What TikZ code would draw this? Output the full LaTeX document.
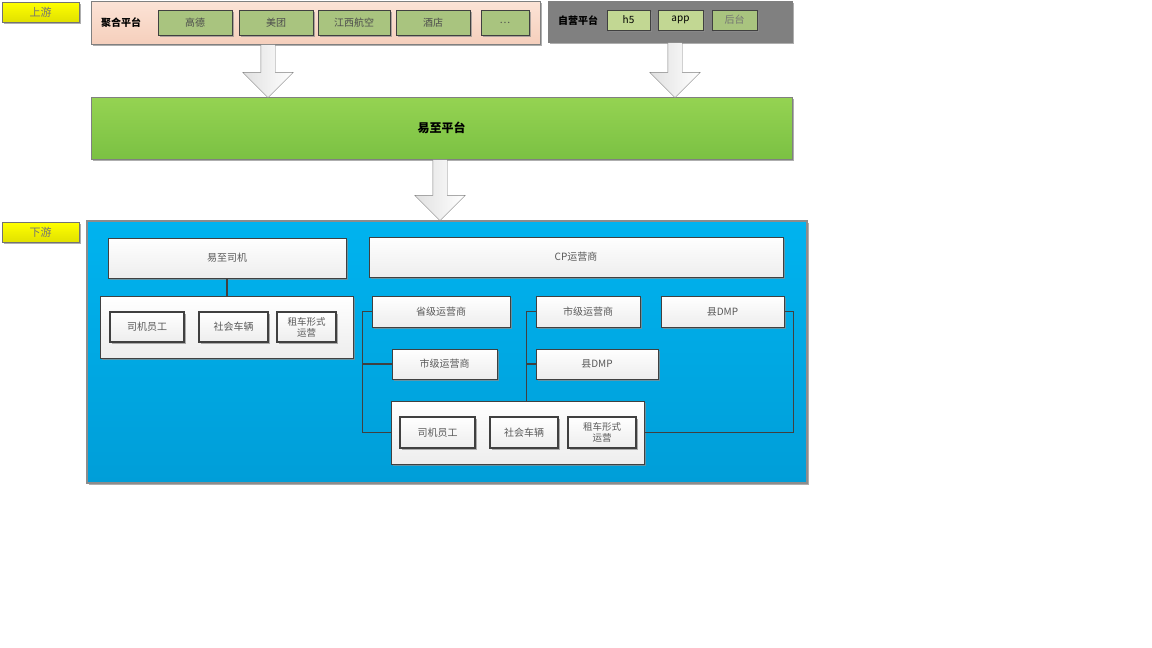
\documentclass[tikz,border=0pt]{standalone}
\usepackage{fontspec}
\setmainfont{Noto Sans CJK SC}
\usetikzlibrary{shapes.arrows,shadows,calc}

\definecolor{peachtop}{HTML}{FCE3D6}
\definecolor{peachbot}{HTML}{F5CFBC}
\definecolor{olivebox}{HTML}{A9C47F}
\definecolor{limebox}{HTML}{C2D793}
\definecolor{greentop}{HTML}{95D352}
\definecolor{greenbot}{HTML}{7BC143}
\definecolor{bluetop}{HTML}{00B3EF}
\definecolor{bluebot}{HTML}{009ED8}
\definecolor{framegray}{HTML}{404040}

\begin{document}
\begin{tikzpicture}[x=1pt,y=-1pt,
    font=\fontsize{10}{12}\selectfont,
    boxshadow/.style={drop shadow={shadow xshift=1.5pt,shadow yshift=-1.5pt,fill=black!45,opacity=.7}},
    tagbox/.style={draw=black!55,line width=0.8pt,top color=yellow,bottom color=yellow!88!black,
      minimum width=77,minimum height=20,text=black!55,font=\fontsize{11}{13}\selectfont,boxshadow},
    panel/.style={draw=black!50,line width=0.8pt,boxshadow},
    tilebox/.style={draw=framegray,line width=1pt,fill=olivebox,minimum height=25,text=black!70,boxshadow},
    whitebox/.style={draw=framegray,line width=0.8pt,top color=white,bottom color=black!7,
      text=black!65,align=center,boxshadow},
    bigarrow/.style={single arrow,draw=black!50,top color=black!12,bottom color=white,shading angle=90,
      rotate=-90,inner xsep=0pt,inner ysep=7pt,single arrow head extend=18pt,anchor=tail},
    link/.style={draw=framegray,line width=1.5pt}]
  \useasboundingbox[fill=white] (0,0) rectangle (1152,648);

  % upstream
  \node[tagbox] (up) at (40.5,12) {上游};
  \node[panel,top color=peachtop,bottom color=peachbot,minimum width=449,minimum height=43] (juhe) at (315.5,22.5) {};
  \node[font=\bfseries\fontsize{10}{12}\selectfont] (juhetitle) at (121,22.5) {聚合平台};
  \node[tilebox,minimum width=74] (gaode) at (195,22.5) {高德};
  \node[tilebox,minimum width=74] (meituan) at (276,22.5) {美团};
  \node[tilebox,minimum width=72] (jiangxi) at (354,22.5) {江西航空};
  \node[tilebox,minimum width=74] (hotel) at (433,22.5) {酒店};
  \node[tilebox,minimum width=48] (more) at (505,22.5) {…};

  \node[panel,fill=black!50,minimum width=244,minimum height=41] (ziying) at (670,21.5) {};
  \node[font=\bfseries\fontsize{10}{12}\selectfont] (ziyingtitle) at (578,21) {自营平台};
  \node[tilebox,fill=limebox,minimum width=43,minimum height=20,text=black] (hfive) at (628.5,20) {h5};
  \node[tilebox,fill=limebox,minimum width=45,minimum height=20,text=black] (app) at (680.5,20) {app};
  \node[tilebox,minimum width=45,minimum height=20,text=black!55] (admin) at (734.5,20) {后台};

  % platform
  \node[panel,top color=greentop,bottom color=greenbot,minimum width=701,minimum height=62,
    font=\bfseries\fontsize{12}{14}\selectfont] (yizhi) at (441.5,128) {易至平台};

  \node[bigarrow,minimum height=53] (arrjuhe) at (juhe.south -| 268,0) {};
  \node[bigarrow,minimum height=55] (arrziying) at (ziying.south -| 675,0) {};
  \node[bigarrow,minimum height=61] (arryizhi) at (yizhi.south -| 440,0) {};

  % downstream
  \node[tagbox] (down) at (40.5,232.5) {下游};
  \node[panel,draw=black!45,line width=1.5pt,top color=bluetop,bottom color=bluebot,
    minimum width=720,minimum height=262] (blue) at (447,352) {};

  \node[whitebox,minimum width=238,minimum height=40] (siji) at (227,258) {易至司机};
  \node[whitebox,minimum width=253,minimum height=62] (groupA) at (226.5,327) {};
  \node[whitebox,line width=1.2pt,minimum width=74,minimum height=30] (staffA) at (147,327) {司机员工};
  \node[whitebox,line width=1.2pt,minimum width=69,minimum height=30] (socialA) at (233.5,327) {社会车辆};
  \node[whitebox,line width=1.2pt,minimum width=59,minimum height=30,inner sep=1pt,
    font=\fontsize{9.5}{11}\selectfont] (rentA) at (306.5,327) {租车形式\\运营};

  \node[whitebox,minimum width=414,minimum height=40] (cp) at (576,257) {CP运营商};
  \node[whitebox,minimum width=138,minimum height=31] (sheng) at (441,311.5) {省级运营商};
  \node[whitebox,minimum width=104,minimum height=31] (shitop) at (588,311.5) {市级运营商};
  \node[whitebox,minimum width=123,minimum height=31] (xiantop) at (722.5,311.5) {县DMP};
  \node[whitebox,minimum width=105,minimum height=30] (shilow) at (444.5,364) {市级运营商};
  \node[whitebox,minimum width=122,minimum height=30] (xianlow) at (597,364) {县DMP};

  \node[whitebox,minimum width=253,minimum height=63] (groupB) at (517.5,432.5) {};
  \node[whitebox,line width=1.2pt,minimum width=75,minimum height=31] (staffB) at (437.5,432.5) {司机员工};
  \node[whitebox,line width=1.2pt,minimum width=68,minimum height=31] (socialB) at (524,432.5) {社会车辆};
  \node[whitebox,line width=1.2pt,minimum width=68,minimum height=31,inner sep=1pt,
    font=\fontsize{9.5}{11}\selectfont] (rentB) at (602,432.5) {租车形式\\运营};

  % links
  \draw[link] (siji.south) -- (siji.south |- groupA.north);
  \coordinate (trunkL) at ($(sheng.west)+(-9,0)$);
  \coordinate (trunkM) at ($(shitop.west)+(-9,0)$);
  \coordinate (trunkR) at ($(xiantop.east)+(9,0)$);
  \draw[link] (sheng.west) -- (trunkL) |- (groupB.west);
  \draw[link] (shilow.west) -- (shilow.west -| trunkL);
  \draw[link] (shitop.west) -- (trunkM) -- (trunkM |- groupB.north);
  \draw[link] (xianlow.west) -- (xianlow.west -| trunkM);
  \draw[link] (xiantop.east) -- (trunkR) |- (groupB.east);
\end{tikzpicture}
\end{document}
